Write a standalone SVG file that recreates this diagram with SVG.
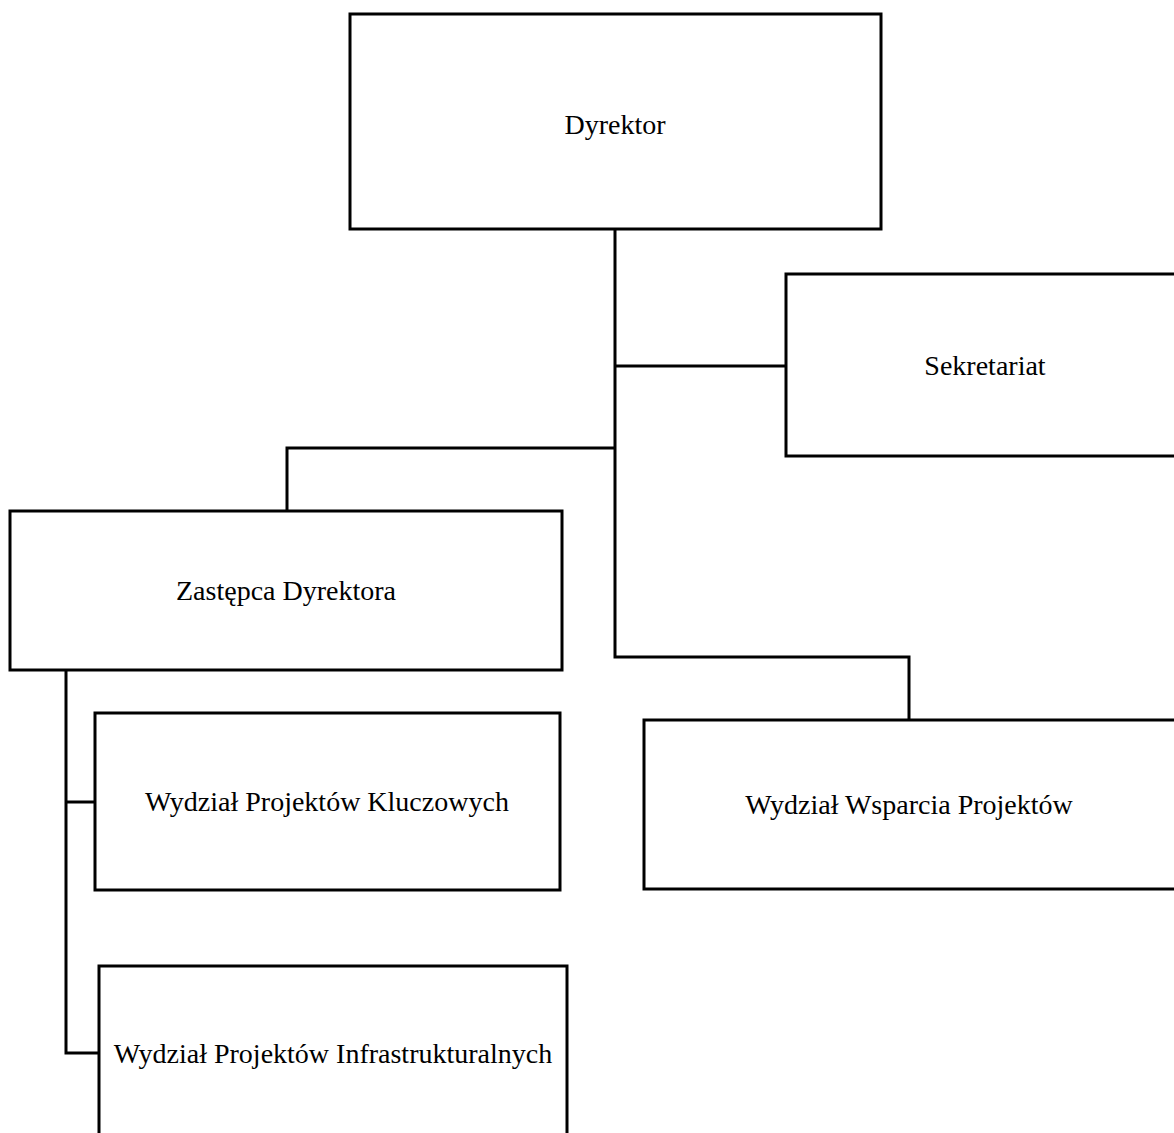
<svg xmlns="http://www.w3.org/2000/svg" width="1174" height="1133" viewBox="0 0 1174 1133">
<style>
.box{fill:#fff;stroke:#000;stroke-width:3}
.lbl{font-family:"Liberation Serif","Times New Roman",serif;font-size:28px;fill:#000;text-anchor:middle}
.con{fill:none;stroke:#000;stroke-width:3}
</style>
<rect width="1174" height="1133" fill="#fff"/>
<g id="connectors">
<path class="con" d="M615,229 V657 H909 V720"/>
<path class="con" d="M615,366 H786"/>
<path class="con" d="M615,448 H287 V511"/>
<path class="con" d="M66,670 V1053 H99"/>
<path class="con" d="M66,802 H95"/>
</g>
<g id="dyrektor"><rect class="box" x="350" y="14" width="531" height="215"/><text class="lbl" x="615" y="134">Dyrektor</text></g>
<g id="sekretariat"><rect class="box" x="786" y="274" width="400" height="182"/><text class="lbl" x="985" y="375">Sekretariat</text></g>
<g id="zastepca"><rect class="box" x="10" y="511" width="552" height="159"/><text class="lbl" x="286" y="600">Zastępca Dyrektora</text></g>
<g id="kluczowych"><rect class="box" x="95" y="713" width="465" height="177"/><text class="lbl" x="327" y="811">Wydział Projektów Kluczowych</text></g>
<g id="wsparcia"><rect class="box" x="644" y="720" width="542" height="169"/><text class="lbl" x="909" y="814">Wydział Wsparcia Projektów</text></g>
<g id="infrastrukturalnych"><rect class="box" x="99" y="966" width="468" height="180"/><text class="lbl" x="333" y="1063">Wydział Projektów Infrastrukturalnych</text></g>
</svg>
